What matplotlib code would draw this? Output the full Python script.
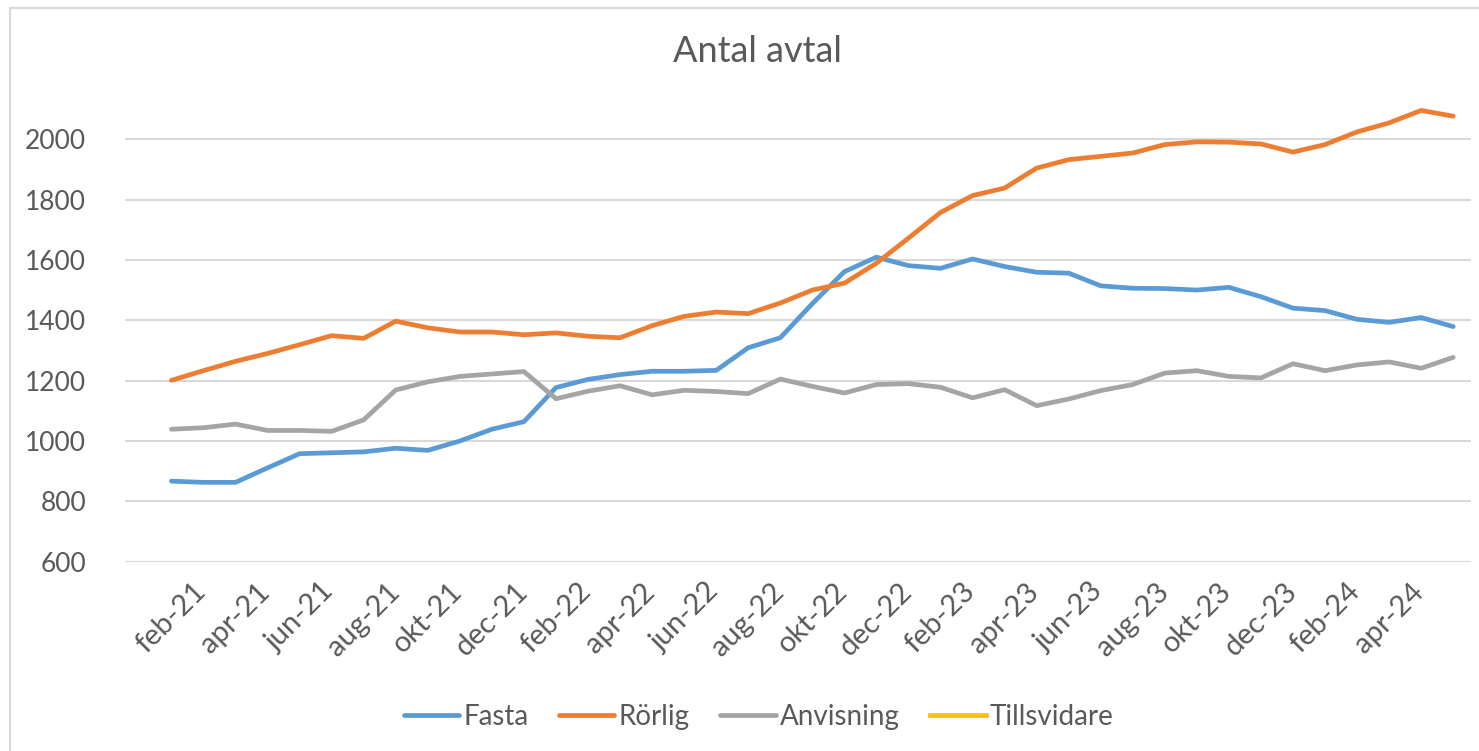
import matplotlib.pyplot as plt
from matplotlib.patches import Rectangle

# Månader feb-21 .. jun-24
months = ["feb-21", "mar-21", "apr-21", "maj-21", "jun-21", "jul-21", "aug-21", "sep-21",
          "okt-21", "nov-21", "dec-21", "jan-22", "feb-22", "mar-22", "apr-22", "maj-22",
          "jun-22", "jul-22", "aug-22", "sep-22", "okt-22", "nov-22", "dec-22", "jan-23",
          "feb-23", "mar-23", "apr-23", "maj-23", "jun-23", "jul-23", "aug-23", "sep-23",
          "okt-23", "nov-23", "dec-23", "jan-24", "feb-24", "mar-24", "apr-24", "maj-24",
          "jun-24"]

fasta = [867, 863, 863, 911, 958, 961, 964, 976, 969, 1000, 1039, 1064, 1177, 1204,
         1220, 1231, 1231, 1234, 1309, 1342, 1455, 1561, 1609, 1581, 1572, 1603, 1578,
         1559, 1556, 1514, 1506, 1505, 1500, 1509, 1478, 1440, 1432, 1403, 1393, 1409,
         1379]

rorlig = [1201, 1233, 1264, 1290, 1319, 1349, 1340, 1397, 1375, 1361, 1361, 1352, 1358,
          1347, 1342, 1382, 1413, 1427, 1422, 1457, 1500, 1523, 1589, 1672, 1757, 1813,
          1838, 1904, 1932, 1943, 1954, 1982, 1991, 1990, 1984, 1957, 1982, 2024, 2054,
          2095, 2076]

anvisning = [1039, 1044, 1056, 1035, 1035, 1032, 1070, 1169, 1196, 1214, 1222, 1230,
             1140, 1165, 1183, 1153, 1168, 1164, 1157, 1205, 1181, 1159, 1187, 1190, 1178,
             1143, 1170, 1117, 1139, 1167, 1187, 1225, 1233, 1214, 1209, 1256, 1233, 1252,
             1262, 1241, 1277]

# Tillsvidare syns inte i diagrammet (under axelns minimum)
tillsvidare = [None] * len(months)

yticks = [600, 800, 1000, 1200, 1400, 1600, 1800, 2000]

plt.rcParams['font.family'] = ['Lato', 'DejaVu Sans']
textfarg = "#595959"

fig = plt.figure(figsize=(14.79, 7.51), dpi=100)
ax = fig.add_axes([0.0845, 0.252, 0.91, 0.615])

# ram runt diagrammet
fig.patches.append(Rectangle((10 / 1479, -0.1), 1.2, 1 - 8 / 751 + 0.1,
                             transform=fig.transFigure, fill=False,
                             edgecolor="#D9D9D9", linewidth=1.5))

x = list(range(len(months)))
lw = 3.4
ax.plot(x, fasta, color="#5B9BD5", linewidth=lw, label="Fasta", solid_capstyle="round")
ax.plot(x, rorlig, color="#ED7D31", linewidth=lw, label="Rörlig", solid_capstyle="round")
ax.plot(x, anvisning, color="#A5A5A5", linewidth=lw, label="Anvisning", solid_capstyle="round")
ax.plot(x, [float('nan') if v is None else v for v in tillsvidare],
        color="#FFC000", linewidth=lw, label="Tillsvidare")

ax.set_ylim(600, 2130)
ax.set_xlim(-1.45, 40.55)
ax.set_yticks(yticks)
ax.set_yticklabels([str(v) for v in yticks])
ax.set_xticks(x[0:39:2])
ax.set_xticklabels(months[0:39:2], rotation=45, ha="center")

ax.grid(axis="y", color="#D9D9D9", linewidth=1.5)
ax.set_axisbelow(True)
for s in ax.spines.values():
    s.set_visible(False)
ax.tick_params(axis="both", length=0, colors=textfarg)
ax.tick_params(axis="y", pad=28, labelsize=19)
ax.tick_params(axis="x", pad=12, labelsize=21)

fig.text(0.512, 0.932, "Antal avtal", ha="center", va="center",
         fontsize=26, color=textfarg)

leg = fig.legend(loc="center", bbox_to_anchor=(0.513, 0.045), ncol=4, frameon=False,
                 fontsize=20, handlelength=2.0, handletextpad=0.15, columnspacing=1.1)
for t in leg.get_texts():
    t.set_color(textfarg)

fig.savefig("out.png", dpi=100)
